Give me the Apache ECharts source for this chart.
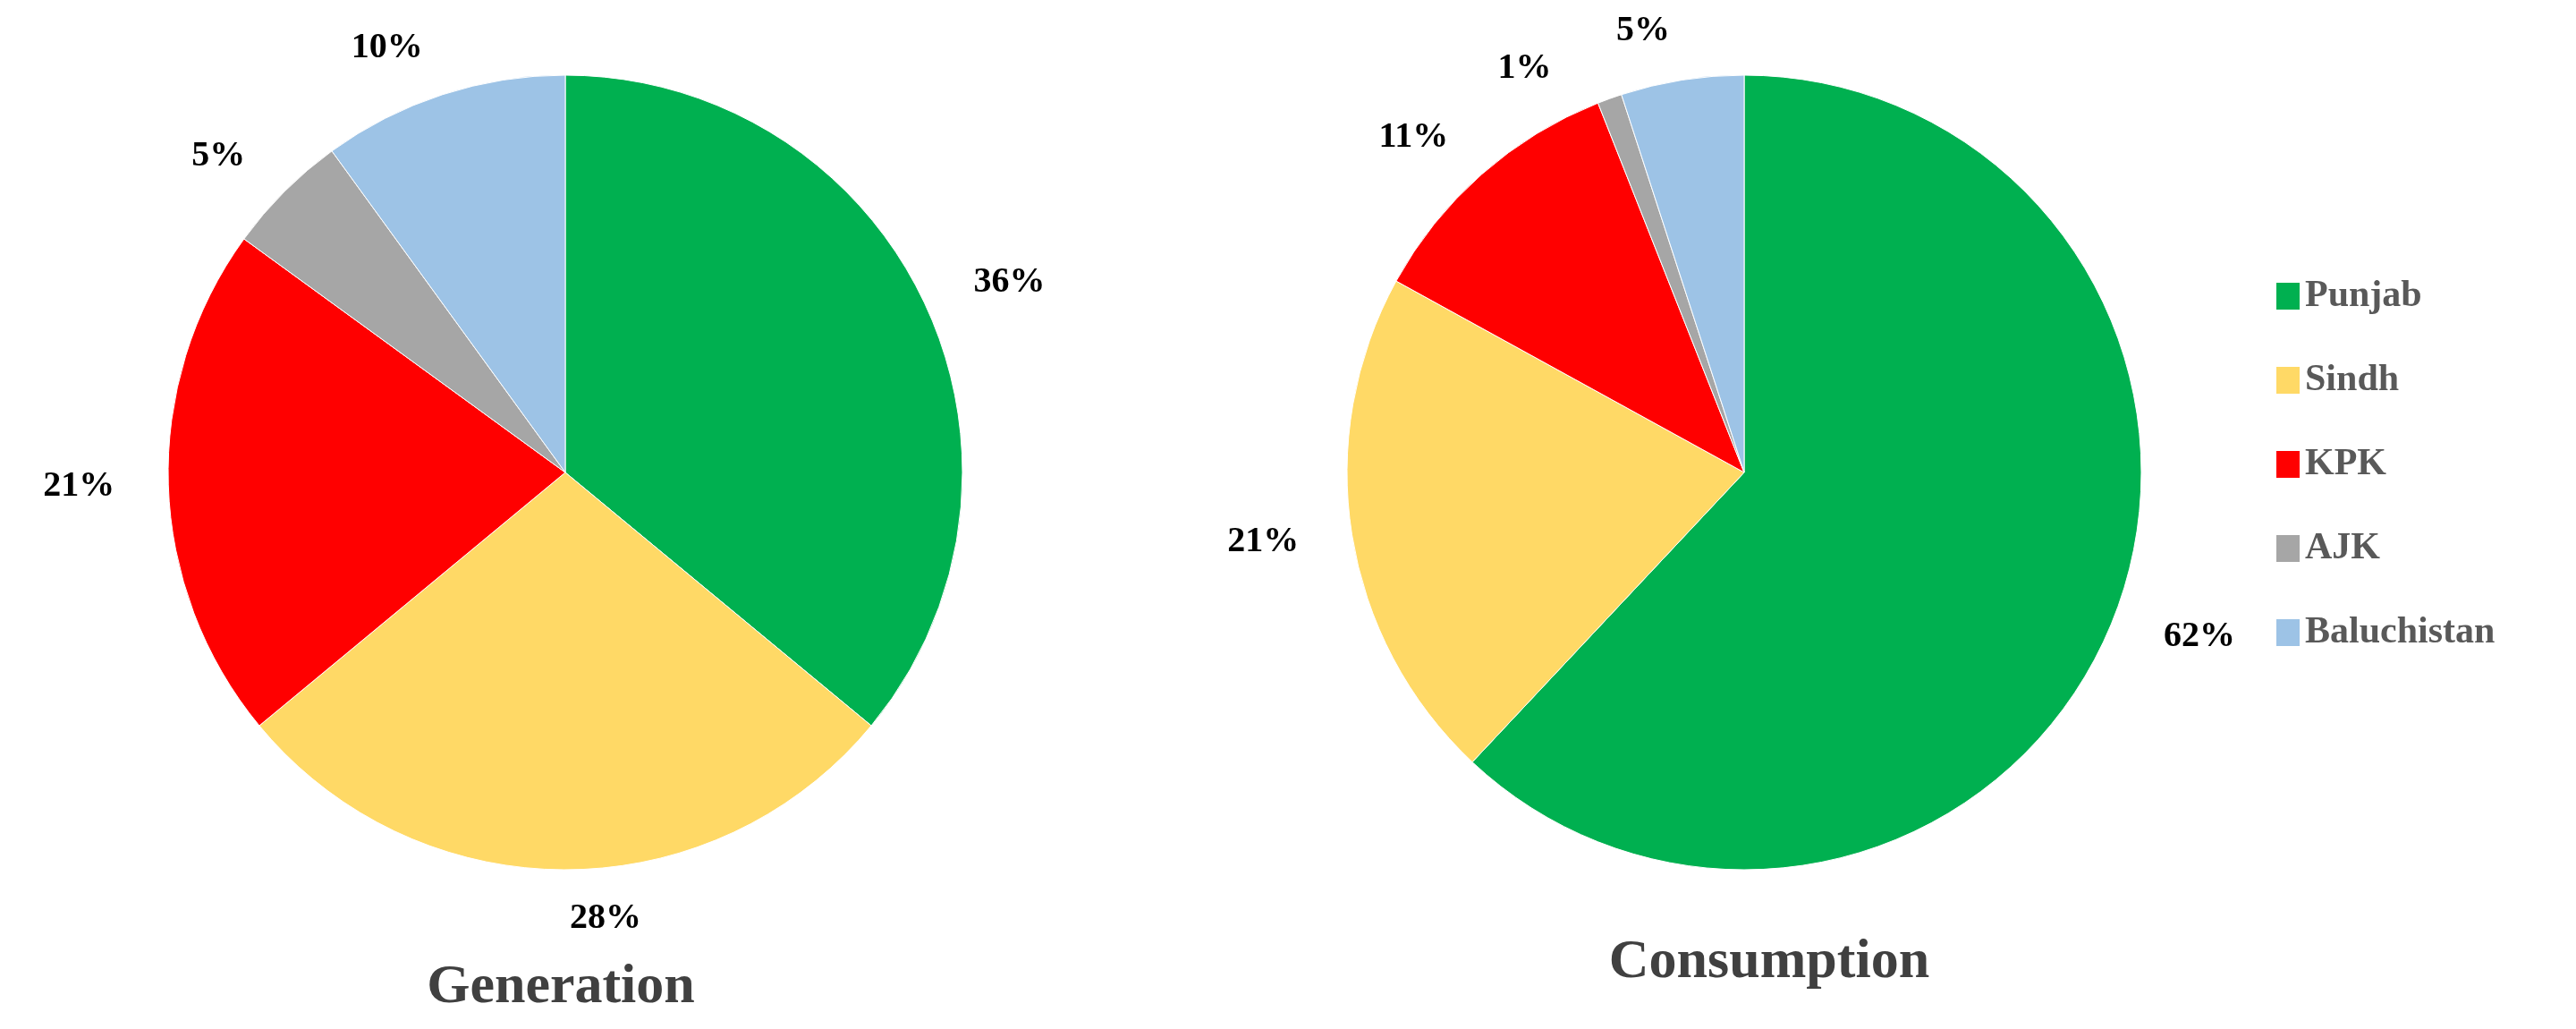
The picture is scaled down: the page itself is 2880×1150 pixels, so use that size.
<!DOCTYPE html>
<html><head><meta charset="utf-8">
<script src="https://cdn.jsdelivr.net/npm/echarts@6/dist/echarts.min.js"></script>
<style>html,body{margin:0;padding:0;background:#fff}#c{width:2880px;height:1150px}</style>
</head><body><div id="c"></div>
<script>
const categories = ['Punjab','Sindh','KPK','AJK','Baluchistan'];
const generation = [36,28,21,5,10];
const consumption = [62,21,11,1,5];
const colors = ['#00B050','#FFD966','#FF0000','#A6A6A6','#9DC3E6'];
const font = '"Liberation Serif", "Times New Roman", serif';
const chart = echarts.init(document.getElementById('c'));
function series(name, vals, cx){
  return {
    type:'pie', name, center:[cx,528], radius:[0,444], startAngle:90, clockwise:true,
    data: categories.map((c,i)=>({name:c,value:vals[i]})),
    itemStyle:{borderColor:'#fff',borderWidth:1},
    label:{show:true,position:'outside',formatter:'{c}%',fontFamily:font,fontWeight:'bold',fontSize:40,color:'#000'},
    labelLine:{show:false,length:55,length2:0},
    emphasis:{disabled:true}
  };
}
chart.setOption({
  color: colors,
  animation:false,
  title:[
    {text:'Generation',left:622,top:1068,textAlign:'center',textStyle:{fontFamily:font,fontWeight:'bold',fontSize:62,color:'#404040'}},
    {text:'Consumption',left:1973,top:1040,textAlign:'center',textStyle:{fontFamily:font,fontWeight:'bold',fontSize:62,color:'#404040'}}
  ],
  legend:{orient:'vertical',left:2538,top:305,itemGap:52,itemWidth:28,itemHeight:32,icon:'rect',
    data:categories,textStyle:{fontFamily:font,fontWeight:'bold',fontSize:42,color:'#595959'}},
  series:[series('Generation',generation,632),series('Consumption',consumption,1950)]
});
</script></body></html>
